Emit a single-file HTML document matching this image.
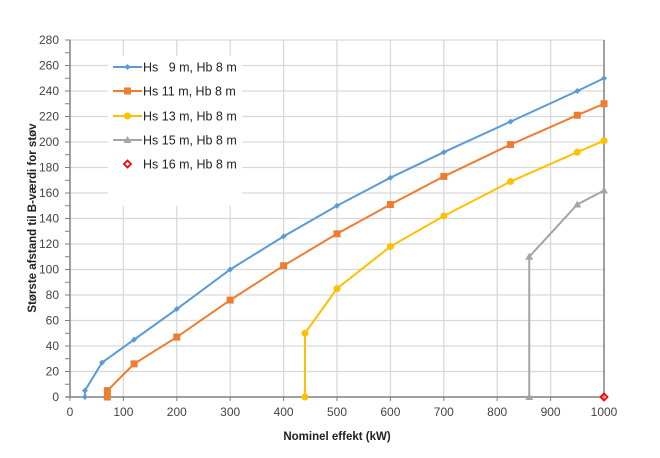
<!DOCTYPE html>
<html><head><meta charset="utf-8"><style>body{margin:0;background:#fff}svg{display:block}</style></head><body>
<svg width="660" height="458" viewBox="0 0 660 458" xmlns="http://www.w3.org/2000/svg" font-family="Liberation Sans, sans-serif">
<rect width="660" height="458" fill="#fff"/>
<g id="grid" stroke="#d9d9d9" stroke-width="1.3"></g>
<g id="axes"></g>
<g id="series"></g>
<rect x="108" y="56" width="134" height="150" fill="#fff"/>
<g font-size="12.5" fill="#222">
<line x1="113" y1="67" x2="142" y2="67" stroke="#5b9bd5" stroke-width="2"/><path d="M127.5 64 l3 3 l-3 3 l-3 -3z" fill="#5b9bd5"/>
<text x="143" y="71.5">Hs&#160;&#160;&#160;9 m, Hb 8 m</text>
<line x1="113" y1="91" x2="142" y2="91" stroke="#ed7d31" stroke-width="2"/><rect x="124" y="87.5" width="7" height="7" fill="#ed7d31"/>
<text x="143" y="95.5">Hs 11 m, Hb 8 m</text>
<line x1="113" y1="116" x2="142" y2="116" stroke="#ffc000" stroke-width="2"/><circle cx="127.5" cy="116" r="3.5" fill="#ffc000"/>
<text x="143" y="120.5">Hs 13 m, Hb 8 m</text>
<line x1="113" y1="140" x2="142" y2="140" stroke="#a5a5a5" stroke-width="2"/><path d="M127.5 136 l4 7 h-8z" fill="#a5a5a5"/>
<text x="143" y="144.5">Hs 15 m, Hb 8 m</text>
<path d="M127.5 160.5 l3.5 3.5 l-3.5 3.5 l-3.5 -3.5z" fill="none" stroke="#ff0000" stroke-width="1.8"/>
<text x="143" y="168.5">Hs 16 m, Hb 8 m</text>
</g>
<text x="0" y="0" font-size="11.5" font-weight="bold" fill="#222" text-anchor="middle" transform="translate(36 218) rotate(-90)">Største afstand til B-værdi for støv</text>
<text x="337" y="440" font-size="11.5" font-weight="bold" fill="#222" text-anchor="middle">Nominel effekt (kW)</text>
<script>
const X=v=>70+v*0.534, Y=v=>397-v*1.275;
const ns="http://www.w3.org/2000/svg";
function el(p,t,a){const e=document.createElementNS(ns,t);for(const k in a)e.setAttribute(k,a[k]);p.appendChild(e);return e;}
const g=document.getElementById('grid'),ax=document.getElementById('axes'),s=document.getElementById('series');
for(let v=20;v<=280;v+=20)el(g,'line',{x1:70,x2:604,y1:Y(v),y2:Y(v)});
for(let v=100;v<1000;v+=100)el(g,'line',{x1:X(v),x2:X(v),y1:40,y2:397});
el(ax,'line',{x1:70,x2:70,y1:40,y2:397,stroke:'#808080','stroke-width':1.5});
el(ax,'line',{x1:604,x2:604,y1:40,y2:397,stroke:'#808080','stroke-width':1.5});
el(ax,'line',{x1:66,x2:604,y1:397,y2:397,stroke:'#808080','stroke-width':1.5});
for(let v=0;v<=280;v+=10)el(ax,'line',{x1:65,x2:70,y1:Y(v),y2:Y(v),stroke:'#808080'});
for(let v=0;v<=280;v+=20){const t=el(ax,'text',{x:59,y:Y(v)+4,'font-size':12,fill:'#444','text-anchor':'end'});t.textContent=v;}
for(let v=0;v<=1000;v+=100){el(ax,'line',{x1:X(v),x2:X(v),y1:397,y2:401,stroke:'#808080'});const t=el(ax,'text',{x:X(v),y:416,'font-size':12,fill:'#444','text-anchor':'middle'});t.textContent=v;}
const data=[
['#5b9bd5','d',[[28,0],[28,5],[60,27],[120,45],[200,69],[300,100],[400,126],[500,150],[600,172],[700,192],[825,216],[950,240],[1000,250]]],
['#ed7d31','s',[[70,0],[70,5],[120,26],[200,47],[300,76],[400,103],[500,128],[600,151],[700,173],[825,198],[950,221],[1000,230]]],
['#ffc000','c',[[440,0],[440,50],[500,85],[600,118],[700,142],[825,169],[950,192],[1000,201]]],
['#a5a5a5','t',[[860,0],[860,110],[950,151],[1000,162]]]];
for(const [c,m,pts] of data){
 el(s,'polyline',{points:pts.map(p=>X(p[0])+','+Y(p[1])).join(' '),fill:'none',stroke:c,'stroke-width':2});
 for(const p of pts){const x=X(p[0]),y=Y(p[1]);
  if(m=='d')el(s,'path',{d:`M${x} ${y-3} l3 3 l-3 3 l-3 -3z`,fill:c});
  else if(m=='s')el(s,'rect',{x:x-3.5,y:y-3.5,width:7,height:7,fill:c});
  else if(m=='c')el(s,'circle',{cx:x,cy:y,r:3.5,fill:c});
  else el(s,'path',{d:`M${x} ${y-4} l4 7 h-8z`,fill:c});}
}
el(s,'path',{d:`M${X(1000)} ${Y(0)-3.5} l3.5 3.5 l-3.5 3.5 l-3.5 -3.5z`,fill:'none',stroke:'#ff0000','stroke-width':1.8});
</script>
</svg>
</body></html>
